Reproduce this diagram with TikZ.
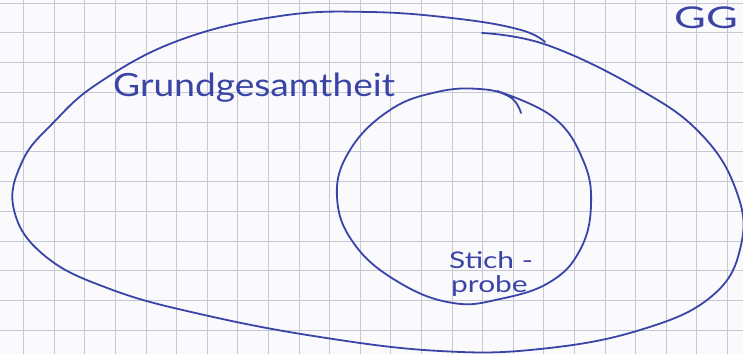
\documentclass[tikz,border=0pt]{standalone}
\usepackage{fontspec}
\setmainfont{Lato}
\usepackage{xcolor}
\definecolor{ink}{HTML}{3A44A6}
\definecolor{paper}{RGB}{250,250,252}
\definecolor{gridline}{RGB}{198,200,212}

\begin{document}
\begin{tikzpicture}[
    x=1pt, y=-1pt,
    raster/.style={draw=gridline, line width=0.8pt},
    stroke/.style={draw=ink, line width=1.8pt, line cap=round, line join=round},
    hand/.style={text=ink, inner sep=0pt, font=\fontsize{#1}{#1}\selectfont},
]

% Papier
\fill[paper] (0,0) rectangle (743,354);
\useasboundingbox (0,0) rectangle (743,354);

% Raster
\foreach \i in {0,...,23} {
    \draw[raster] (23.5+30.6*\i,0) -- (23.5+30.6*\i,354);
}
\foreach \j in {0,...,11} {
    \draw[raster] (0,3+29.75*\j) -- (743,3+29.75*\j);
}

% Grundgesamtheit
\draw[stroke] plot[smooth, tension=0.7] coordinates {
    (482,33) (547,45) (637,88) (700,133) (736,190) (741,245)
    (712,296) (640,330) (540,349) (440,351) (320,337) (200,314)
    (110,289) (45,256) (14,210) (22,162) (53,123) (100,82)
    (180,40) (280,16) (370,12) (460,19) (521,30) (545,42)
};

% Stichprobe
\draw[stroke] plot[smooth, tension=0.7] coordinates {
    (497,91) (553,117) (583,160) (591,205) (580,250) (550,282)
    (500,299) (453,303) (400,283) (355,245) (337,197) (350,150)
    (390,110) (437,92) (480,89) (510,97) (521,113)
};

% Beschriftungen
\node[hand=32, anchor=base west] (grund) at (113,96) {\scalebox{1.16}[1]{Grundgesamtheit}};
\node[hand=30, anchor=base west] (gg) at (674,28) {\scalebox{1.45}[1]{GG}};
\node[hand=23, anchor=base west] (stich) at (449,268) {\scalebox{1.3}[1]{Stich -}};
\node[hand=23, anchor=base west] (probe) at (451,292) {\scalebox{1.3}[1]{probe}};

\end{tikzpicture}
\end{document}
